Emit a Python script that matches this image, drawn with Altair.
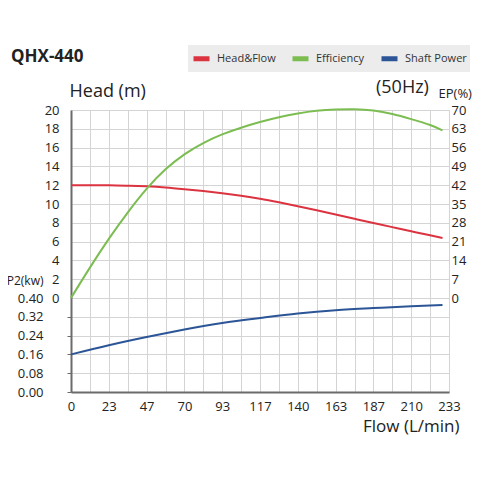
import altair as alt
import pandas as pd

# ---- data ----
flow = [0, 11.65, 23.3, 34.95, 46.6, 58.25, 69.9, 81.55, 93.2, 104.85, 116.5,
        128.15, 139.8, 151.45, 163.1, 174.75, 186.4, 198.05, 209.7, 221.35, 229]
head = [12.0, 12.0, 12.0, 11.95, 11.88, 11.76, 11.58, 11.38, 11.15, 10.88, 10.56,
        10.18, 9.77, 9.33, 8.88, 8.43, 7.98, 7.54, 7.1, 6.67, 6.38]
eff = [0, 11.3, 22.0, 31.8, 40.6, 47.9, 53.5, 57.7, 60.9, 63.4, 65.5,
       67.3, 68.7, 69.7, 70.2, 70.3, 69.8, 68.5, 66.6, 64.4, 62.4]
p_flow = [0, 23.3, 46.6, 69.9, 93.2, 116.5, 139.8, 163.1, 186.4, 209.7, 229]
power = [0.16, 0.199, 0.234, 0.266, 0.294, 0.315, 0.334, 0.348, 0.357, 0.365, 0.37]

x_labels = ["0", "23", "47", "70", "93", "117", "140", "163", "187", "210", "233"]
head_ticks = list(range(-10, 21, 2))
ep_ticks = [0, 7, 14, 21, 28, 35, 42, 49, 56, 63, 70]
p_ticks = [0.0, 0.08, 0.16, 0.24, 0.32, 0.40]
series = ["Head&Flow", "Efficiency", "Shaft Power"]
colors = ["#dc3340", "#7cbd52", "#2b5596"]

FONT = "Open Sans"
W, H = 378, 282
INTERP = "natural"

df_head = pd.DataFrame({"flow": flow, "v": head, "series": series[0]})
df_eff = pd.DataFrame({"flow": flow, "v": eff, "series": series[1]})
df_pow = pd.DataFrame({"flow": p_flow, "v": power, "series": series[2]})

grid_vals = [round(i * 11.65, 3) for i in range(21)]
lab_arr = "[" + ",".join("'%s'" % s for s in x_labels) + "]"


def x_enc():
    return alt.X(
        "flow:Q",
        scale=alt.Scale(domain=[0, 233], nice=False, zero=False),
        axis=alt.Axis(
            values=grid_vals,
            labelExpr="round(datum.value/11.65) % 2 == 0 ? " + lab_arr + "[round(datum.value/23.3)] : ''",
            grid=True, gridColor="#d4d4d4", gridWidth=1,
            ticks=False, domainColor="#6b6b6b", domainWidth=2,
            labelFontSize=13, labelFont=FONT, labelColor="#222", labelPadding=8,
            labelFlush=False, labelOverlap=False, labelSeparation=0,
            title="Flow (L/min)", titleFont=FONT, titleFontSize=17, titleFontWeight="normal",
            titleColor="#222", titleAlign="right", titleX=388, titleY=39,
            titleBaseline="alphabetic",
        ),
    )


color_enc = alt.Color(
    "series:N",
    scale=alt.Scale(domain=series, range=colors),
    sort=series,
    legend=alt.Legend(
        title=None, orient="none", legendX=117, legendY=-65, direction="horizontal",
        fillColor="#ececec", padding=3, symbolType="M-1,0H1", symbolSize=256,
        symbolStrokeWidth=5, symbolOpacity=1, labelFont=FONT, labelFontSize=11,
        labelColor="#333", labelOffset=5, columnPadding=6,
    ),
)

head_layer = alt.Chart(df_head).mark_line(strokeWidth=2, interpolate=INTERP).encode(
    x=x_enc(),
    y=alt.Y(
        "v:Q",
        scale=alt.Scale(domain=[-10, 20], nice=False, zero=False),
        axis=alt.Axis(
            orient="left", values=head_ticks,
            labelExpr="datum.value >= 0 ? datum.value : ''",
            grid=True, gridColor="#d4d4d4", gridWidth=1,
            ticks=True, tickSize=4, tickColor="#6b6b6b",
            tickOpacity={"condition": {"test": "datum.value < 0", "value": 1}, "value": 0},
            domainColor="#6b6b6b", domainWidth=2,
            labelFontSize=13, labelFont=FONT, labelColor="#222", labelPadding=8,
            labelFlush=False, labelOverlap=False,
            title="Head (m)", titleFont=FONT, titleFontSize=18, titleFontWeight="normal",
            titleColor="#222", titleAngle=0, titleAlign="left", titleBaseline="alphabetic",
            titleX=-2, titleY=-14,
        ),
    ),
    color=color_enc,
)

eff_layer = alt.Chart(df_eff).mark_line(strokeWidth=2, interpolate=INTERP).encode(
    x=x_enc(),
    y=alt.Y(
        "v:Q",
        scale=alt.Scale(domain=[-35, 70], nice=False, zero=False),
        axis=alt.Axis(
            orient="right", values=ep_ticks, grid=False, domain=False, ticks=False,
            labelFontSize=13, labelFont=FONT, labelColor="#222", labelPadding=2,
            labelFlush=False, labelOverlap=False,
            title="EP(%)", titleFont=FONT, titleFontSize=13, titleFontWeight="normal",
            titleColor="#222", titleAngle=0, titleAlign="left", titleBaseline="alphabetic",
            titleX=-11, titleY=-13,
        ),
    ),
    color=color_enc,
)

pow_layer = alt.Chart(df_pow).mark_line(strokeWidth=2, interpolate=INTERP).encode(
    x=x_enc(),
    y=alt.Y(
        "v:Q",
        scale=alt.Scale(domain=[0, 1.2], nice=False, zero=False),
        axis=alt.Axis(
            orient="left", values=p_ticks, format=".2f", offset=20,
            grid=False, domain=False, ticks=False,
            labelFontSize=13, labelFont=FONT, labelColor="#222", labelPadding=8,
            labelFlush=False, labelOverlap=False,
            title="P2(kw)", titleFont=FONT, titleFontSize=12, titleFontWeight="normal",
            titleColor="#222", titleAngle=0, titleAlign="right", titleBaseline="alphabetic",
            titleX=-8, titleY=174,
        ),
    ),
    color=color_enc,
)

ann = pd.DataFrame({"t": ["QHX-440"]})
title_txt = alt.Chart(ann).mark_text(
    align="left", baseline="alphabetic", font=FONT, fontSize=17, fontWeight="bold", color="#222"
).encode(text="t:N", x=alt.value(-60), y=alt.value(-48))

hz = pd.DataFrame({"t": ["(50Hz)"]})
hz_txt = alt.Chart(hz).mark_text(
    align="left", baseline="alphabetic", font=FONT, fontSize=18, color="#222"
).encode(text="t:N", x=alt.value(305), y=alt.value(-17))

chart = alt.layer(head_layer, eff_layer, pow_layer, title_txt, hz_txt).resolve_scale(
    y="independent"
).properties(
    width=W, height=H,
    autosize=alt.AutoSizeParams(type="none"),
    padding={"left": 63, "top": 102, "right": 23, "bottom": 60},
).configure_view(stroke=None).configure(background="white")

chart.save("out.html", embed_options={"renderer": "svg", "actions": False})
